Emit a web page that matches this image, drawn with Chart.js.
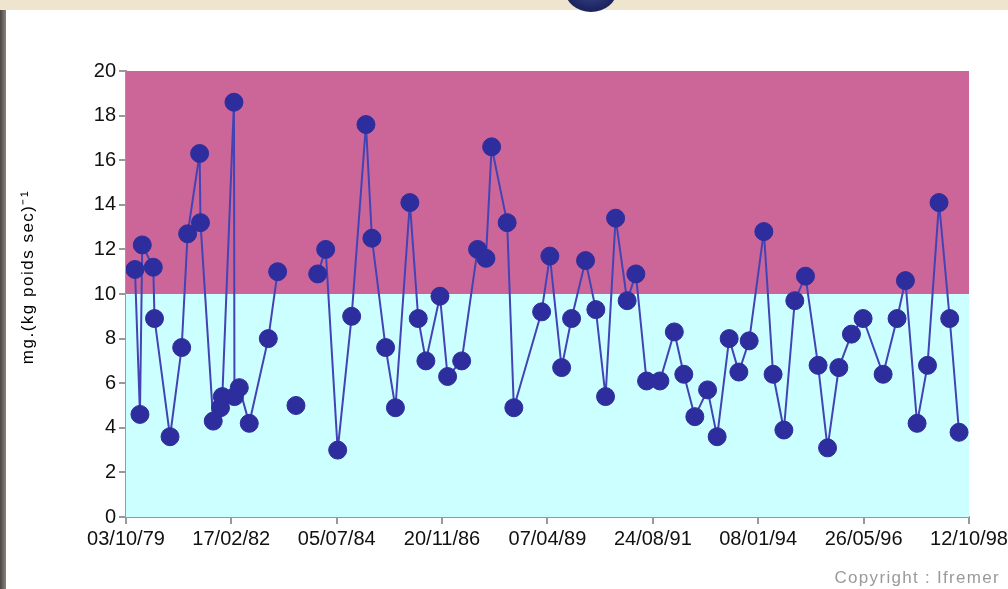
<!DOCTYPE html>
<html>
<head>
<meta charset="utf-8">
<script src="https://cdn.jsdelivr.net/npm/chart.js@4/dist/chart.umd.min.js"></script>
<style>
  html, body { margin: 0; padding: 0; background: #fff; }
  #wrap { position: relative; width: 1008px; height: 589px; overflow: hidden; }
  #topbar { position: absolute; left: 0; top: 0; width: 1008px; height: 10px; background: #efe5cf; }
  #ball { position: absolute; left: 565px; top: -32px; width: 52px; height: 44px; border-radius: 50%;
          background: radial-gradient(circle at 50% 30%, #4a5aa8, #1c2560 70%); }
  #leftbar { position: absolute; left: 0; top: 10px; width: 6px; height: 579px;
             background: linear-gradient(to right, #4a4540, #8a8580); }
  #copy { position: absolute; right: 8px; top: 568px; font: 17px "Liberation Sans", Arial, sans-serif;
          color: #9a9a9a; letter-spacing: 1.3px; }
  canvas { position: absolute; left: 0; top: 0; }
</style>
</head>
<body>
<div id="wrap">
  <canvas id="myChart" width="1008" height="589"></canvas>
  <div id="topbar"></div>
  <div id="ball"></div>
  <div id="leftbar"></div>
  <div id="copy">Copyright : Ifremer</div>
</div>
<script>
// sampling dates and values
const sampleDates = [
  '1979-12-16', '1980-01-26', '1980-02-14', '1980-05-15', '1980-05-25', '1980-09-30',
  '1981-01-04', '1981-02-22', '1981-06-01', '1981-06-08', '1981-09-21', '1981-11-20',
  '1981-12-05', '1982-03-11', '1982-03-15', '1982-04-24', '1982-07-15', '1982-12-19',
  '1983-03-06', '1983-08-04', '1984-01-30', '1984-04-05', '1984-07-13', '1984-11-05',
  '1985-03-03', '1985-04-21', '1985-08-12', '1985-11-01', '1986-02-28', '1986-05-08',
  '1986-07-10', '1986-11-03', '1987-01-05', '1987-05-01', '1987-09-09', '1987-11-17',
  '1988-01-03', '1988-05-10', '1988-07-04', '1989-02-18', '1989-04-27', '1989-08-02',
  '1989-10-23', '1990-02-15', '1990-05-11', '1990-07-30', '1990-10-21', '1991-01-24',
  '1991-04-06', '1991-07-03', '1991-10-21', '1992-02-17', '1992-05-05', '1992-08-04',
  '1992-11-17', '1993-02-04', '1993-05-14', '1993-08-02', '1993-10-26', '1994-02-24',
  '1994-05-11', '1994-08-08', '1994-11-06', '1995-02-02', '1995-05-17', '1995-08-03',
  '1995-11-04', '1996-02-16', '1996-05-22', '1996-11-03', '1997-02-26', '1997-05-06',
  '1997-08-10', '1997-11-04', '1998-02-07', '1998-05-06', '1998-07-22'
];
const values = [
  11.1, 4.6, 12.2, 11.2, 8.9, 3.6,
  7.6, 12.7, 16.3, 13.2, 4.3, 4.9,
  5.4, 18.6, 5.4, 5.8, 4.2, 8.0,
  11.0, 5.0, 10.9, 12.0, 3.0, 9.0,
  17.6, 12.5, 7.6, 4.9, 14.1, 8.9,
  7.0, 9.9, 6.3, 7.0, 12.0, 11.6,
  16.6, 13.2, 4.9, 9.2, 11.7, 6.7,
  8.9, 11.5, 9.3, 5.4, 13.4, 9.7,
  10.9, 6.1, 6.1, 8.3, 6.4, 4.5,
  5.7, 3.6, 8.0, 6.5, 7.9, 12.8,
  6.4, 3.9, 9.7, 10.8, 6.8, 3.1,
  6.7, 8.2, 8.9, 6.4, 8.9, 10.6,
  4.2, 6.8, 14.1, 8.9, 3.8
];
// no line drawn after these samples (gap around the isolated point)
const lineBreaks = ['1983-03-06', '1983-08-04'];

const tickLabels = ['03/10/79', '17/02/82', '05/07/84', '20/11/86', '07/04/89',
                    '24/08/91', '08/01/94', '26/05/96', '12/10/98'];
const yTicks = [0, 2, 4, 6, 8, 10, 12, 14, 16, 18, 20];
const bandLimits = [0, 10, 20];

const fromLabel = s => Date.UTC(1900 + +s.slice(6, 8), +s.slice(3, 5) - 1, +s.slice(0, 2));
const fromIso = s => Date.UTC(+s.slice(0, 4), +s.slice(5, 7) - 1, +s.slice(8, 10));
const origin = fromLabel(tickLabels[0]);
const tickDays = tickLabels.map(s => (fromLabel(s) - origin) / 864e5);
const points = sampleDates.map((d, i) => ({ x: (fromIso(d) - origin) / 864e5, y: values[i] }));
const breakIdx = lineBreaks.map(d => sampleDates.indexOf(d));

const bands = {
  id: 'bands',
  beforeDatasetsDraw(chart) {
    const { ctx, chartArea, scales } = chart;
    const colors = ['#ccffff', '#cc6699'];
    ctx.save();
    for (let i = 0; i < bandLimits.length - 1; i++) {
      const top = scales.y.getPixelForValue(bandLimits[i + 1]);
      const bot = scales.y.getPixelForValue(bandLimits[i]);
      ctx.fillStyle = colors[i];
      ctx.fillRect(chartArea.left, top, chartArea.right - chartArea.left, bot - top);
    }
    ctx.restore();
  }
};

const yTitle = {
  id: 'yTitle',
  afterDraw(chart) {
    const ctx = chart.ctx;
    ctx.save();
    ctx.translate(28, 277);
    ctx.rotate(-Math.PI / 2);
    ctx.font = '17px "Liberation Sans", Arial, sans-serif';
    ctx.letterSpacing = '1.5px';
    ctx.fillStyle = '#000';
    ctx.textAlign = 'center';
    ctx.textBaseline = 'middle';
    ctx.fillText('mg.(kg poids sec)\u207B\u00B9', 0, 0);
    ctx.restore();
  }
};

const myChart = new Chart('myChart', {
  type: 'line',
  data: {
    datasets: [{
      data: points,
      borderColor: '#4343b6',
      borderWidth: 2,
      pointRadius: 9,
      pointHoverRadius: 9,
      pointBackgroundColor: '#2d2d9d',
      pointBorderColor: '#2d2d9d',
      pointBorderWidth: 1,
      tension: 0,
      segment: {
        borderColor: ctx => breakIdx.includes(ctx.p0DataIndex) ? 'transparent' : undefined
      }
    }]
  },
  options: {
    responsive: false,
    animation: false,
    layout: { padding: { top: 71, right: 39, bottom: 0, left: 0 } },
    plugins: { legend: { display: false }, tooltip: { enabled: false } },
    scales: {
      x: {
        type: 'linear',
        min: tickDays[0],
        max: tickDays[tickDays.length - 1],
        afterBuildTicks: s => { s.ticks = tickDays.map(v => ({ value: v })); },
        afterFit: s => { s.height = 72; s.paddingLeft = 0; s.paddingRight = 0; },
        ticks: {
          autoSkip: false, maxRotation: 0, padding: 3, color: '#111',
          font: { family: '"Liberation Sans", Arial, sans-serif', size: 20 },
          callback: (v, i) => tickLabels[i]
        },
        grid: { drawOnChartArea: false, tickLength: 7, color: '#999', lineWidth: 2 },
        border: { color: '#999', width: 2 }
      },
      y: {
        min: yTicks[0],
        max: yTicks[yTicks.length - 1],
        afterBuildTicks: s => { s.ticks = yTicks.map(v => ({ value: v })); },
        afterFit: s => { s.width = 126; },
        ticks: {
          padding: 3, color: '#111',
          font: { family: '"Liberation Sans", Arial, sans-serif', size: 20 }
        },
        grid: { drawOnChartArea: false, tickLength: 7, color: '#999', lineWidth: 2 },
        border: { color: '#999', width: 2 }
      }
    }
  },
  plugins: [bands, yTitle]
});
</script>
</body>
</html>
